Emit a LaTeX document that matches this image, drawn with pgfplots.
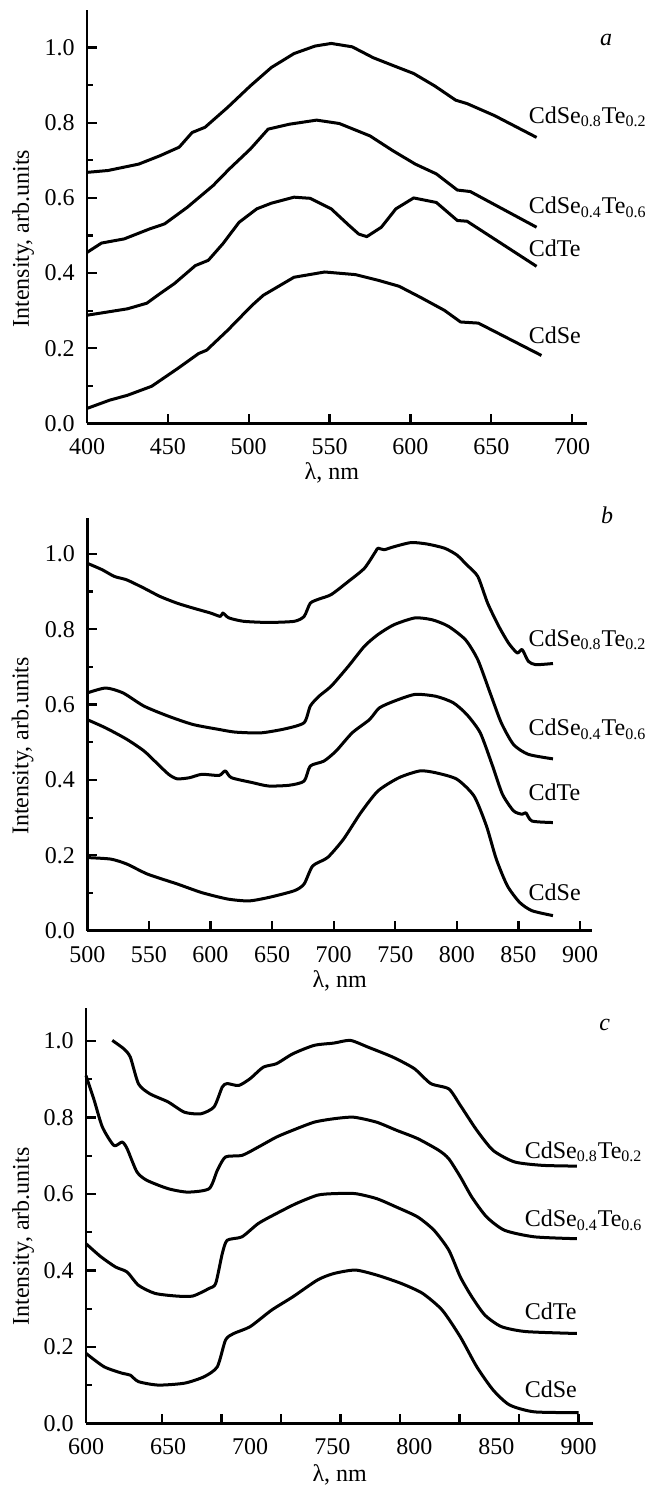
\documentclass[12pt,border=0pt]{standalone}
\usepackage{fontspec}
\setmainfont{Liberation Serif}
\usepackage{pgfplots}
\pgfplotsset{compat=1.18}

\pgfplotsset{
  panel/.style={
    scale only axis,
    axis lines=left,
    axis line style={-,line width=1.4pt},
    every tick/.style={black,line width=1.1pt},
    tick align=inside,
    major tick length=4.8pt,
    minor tick length=3pt,
    clip=false,
    ymin=0,
    ytick={0,0.2,0.4,0.6,0.8,1.0},
    minor y tick num=1,
    /pgf/number format/assume math mode=true,
    yticklabel style={/pgf/number format/fixed,/pgf/number format/fixed zerofill,
      /pgf/number format/precision=1,xshift=-2pt},
    xticklabel style={yshift=-3.5pt},
    tick label style={font=\normalsize},
    label style={font=\normalsize},
    ylabel={Intensity, arb.units},
    xlabel={λ, nm},
    anchor=south west,
  },
  curve/.style={black,line width=1.5pt,line join=round,mark=none},
  scurve/.style={curve,smooth,tension=0.4},
}
\tikzset{tag/.style={anchor=west,inner sep=0pt,font=\normalsize}}

\begin{document}
\begin{tikzpicture}
\useasboundingbox (0,0) rectangle (328pt,743pt);

% ---- panel a ----
\begin{axis}[panel,
  at={(43.5pt,531.25pt)},
  width=249.85pt, height=206.75pt,
  xmin=400, xmax=709, ymax=1.10,
  xtick={400,450,500,550,600,650,700},
  xlabel style={at={(axis description cs:0.49,-0.12)},anchor=center},
  ylabel style={at={(axis description cs:-0.128,0.447)},anchor=center},
]
\addplot[curve] coordinates {(400,0.668)(413,0.673)(432,0.690)(445,0.712)(457,0.735)(465,0.774)(473,0.788)(487,0.841)(501,0.898)(514,0.947)(528,0.984)(541,1.004)(551,1.011)(564,1.002)(577,0.973)(590,0.951)(602,0.931)(615,0.898)(628,0.860)(635,0.851)(652,0.819)(678,0.761)};
\addplot[curve] coordinates {(400,0.455)(409,0.480)(423,0.491)(439,0.518)(448,0.531)(462,0.575)(478,0.633)(488,0.677)(501,0.730)(512,0.783)(525,0.796)(542,0.807)(556,0.798)(575,0.765)(589,0.726)(603,0.690)(616,0.664)(629,0.621)(637,0.617)(678,0.522)};
\addplot[curve] coordinates {(400,0.288)(406,0.292)(425,0.305)(437,0.320)(445,0.345)(454,0.372)(467,0.420)(475,0.434)(484,0.478)(494,0.535)(505,0.571)(514,0.586)(528,0.602)(538,0.599)(551,0.571)(562,0.527)(568,0.504)(573,0.497)(582,0.522)(591,0.571)(602,0.600)(616,0.588)(629,0.540)(635,0.538)(678,0.418)};
\addplot[curve] coordinates {(400,0.040)(414,0.062)(425,0.075)(440,0.099)(456,0.146)(469,0.186)(474,0.195)(487,0.248)(502,0.314)(509,0.341)(528,0.389)(547,0.403)(566,0.396)(580,0.381)(593,0.365)(606,0.336)(621,0.301)(631,0.270)(642,0.267)(681,0.181)};
\node[tag] at (axis cs:673,0.816) {CdSe\textsubscript{0.8}Te\textsubscript{0.2}};
\node[tag] at (axis cs:673,0.575) {CdSe\textsubscript{0.4}Te\textsubscript{0.6}};
\node[tag] at (axis cs:673,0.465) {CdTe};
\node[tag] at (axis cs:673,0.235) {CdSe};
\node[font=\normalsize\itshape] at (axis cs:721,1.02) {a};
\end{axis}

% ---- panel b ----
\begin{axis}[panel,
  at={(43.65pt,277.65pt)},
  width=252.35pt, height=206.5pt,
  xmin=500, xmax=909.7, ymax=1.096,
  xtick={500,550,600,650,700,750,800,850,900},
  xlabel style={at={(axis description cs:0.5,-0.121)},anchor=center},
  ylabel style={at={(axis description cs:-0.128,0.447)},anchor=center},
]
\addplot[scurve] coordinates {(500,0.975)(512,0.958)(522,0.940)(532,0.931)(546,0.909)(559,0.887)(573,0.869)(586,0.856)(600,0.843)(608,0.834)(610,0.843)(615,0.830)(627,0.821)(647,0.818)(668,0.821)(676,0.834)(681,0.869)(688,0.880)(698,0.892)(712,0.927)(725,0.962)(734,1.006)(736,1.015)(741,1.011)(749,1.019)(763,1.030)(776,1.026)(790,1.015)(800,0.997)(808,0.971)(817,0.940)(825,0.869)(834,0.808)(842,0.763)(849,0.737)(853,0.746)(858,0.715)(864,0.706)(878,0.709)};
\addplot[scurve] coordinates {(500,0.631)(515,0.644)(529,0.631)(546,0.596)(566,0.569)(586,0.547)(607,0.534)(620,0.527)(641,0.525)(661,0.536)(676,0.552)(681,0.596)(688,0.622)(698,0.649)(712,0.702)(725,0.755)(736,0.786)(749,0.812)(766,0.830)(780,0.825)(793,0.808)(807,0.772)(817,0.719)(827,0.631)(836,0.552)(846,0.494)(858,0.468)(878,0.456)};
\addplot[scurve] coordinates {(500,0.560)(515,0.538)(532,0.508)(546,0.477)(556,0.446)(566,0.415)(573,0.403)(583,0.406)(593,0.415)(607,0.412)(612,0.424)(617,0.406)(634,0.393)(647,0.384)(664,0.386)(676,0.397)(681,0.437)(692,0.450)(702,0.477)(715,0.525)(729,0.560)(737,0.591)(749,0.609)(766,0.627)(783,0.622)(797,0.605)(808,0.574)(819,0.525)(829,0.437)(837,0.362)(846,0.318)(853,0.309)(856,0.313)(861,0.291)(878,0.287)};
\addplot[scurve] coordinates {(500,0.194)(519,0.190)(532,0.177)(549,0.150)(573,0.124)(593,0.101)(614,0.084)(631,0.079)(647,0.088)(668,0.106)(676,0.124)(683,0.172)(695,0.194)(708,0.243)(722,0.313)(736,0.371)(753,0.406)(770,0.424)(783,0.419)(800,0.402)(814,0.357)(824,0.278)(832,0.190)(841,0.119)(851,0.075)(861,0.053)(878,0.040)};
\node[tag] at (axis cs:858,0.772) {CdSe\textsubscript{0.8}Te\textsubscript{0.2}};
\node[tag] at (axis cs:858,0.534) {CdSe\textsubscript{0.4}Te\textsubscript{0.6}};
\node[tag] at (axis cs:858,0.366) {CdTe};
\node[tag] at (axis cs:858,0.103) {CdSe};
\node[font=\normalsize\itshape] at (axis cs:922,1.103) {b};
\end{axis}

% ---- panel c ----
\begin{axis}[panel,
  at={(43pt,31.35pt)},
  width=253.65pt, height=207.5pt,
  xmin=600, xmax=909, ymax=1.086,
  xtick={646.25,682.5,718.75,755,791.25,827.5,863.75,900},
  xticklabels={},
  extra x ticks={600,650,700,750,800,850,900},
  extra x tick labels={600,650,700,750,800,850,900},
  extra x tick style={major tick length=0pt},
  xlabel style={at={(axis description cs:0.5,-0.125)},anchor=center},
  ylabel style={at={(axis description cs:-0.124,0.45)},anchor=center},
]
\addplot[scurve] coordinates {(616,1.002)(623,0.980)(627,0.958)(632,0.888)(639,0.862)(650,0.841)(660,0.814)(670,0.810)(678,0.828)(683,0.880)(686,0.889)(693,0.884)(700,0.902)(708,0.932)(716,0.941)(726,0.967)(739,0.989)(751,0.995)(761,1.002)(772,0.984)(787,0.958)(800,0.928)(810,0.889)(821,0.875)(828,0.832)(838,0.767)(848,0.714)(861,0.684)(878,0.675)(899,0.673)};
\addplot[scurve] coordinates {(600,0.910)(605,0.845)(610,0.775)(617,0.727)(622,0.736)(625,0.719)(631,0.658)(637,0.636)(650,0.614)(662,0.605)(675,0.614)(680,0.662)(685,0.697)(695,0.701)(705,0.723)(716,0.749)(726,0.767)(739,0.788)(751,0.797)(763,0.801)(777,0.788)(789,0.767)(802,0.745)(815,0.714)(821,0.692)(828,0.645)(835,0.592)(844,0.540)(855,0.505)(873,0.488)(899,0.483)};
\addplot[scurve] coordinates {(600,0.470)(609,0.436)(618,0.409)(625,0.396)(632,0.361)(642,0.340)(655,0.333)(665,0.333)(675,0.353)(679,0.366)(683,0.444)(686,0.479)(695,0.488)(705,0.523)(716,0.549)(728,0.575)(741,0.597)(751,0.601)(764,0.601)(777,0.588)(789,0.566)(802,0.540)(812,0.505)(821,0.453)(828,0.383)(835,0.331)(843,0.283)(853,0.253)(868,0.240)(899,0.235)};
\addplot[scurve] coordinates {(600,0.183)(611,0.148)(622,0.131)(627,0.126)(632,0.109)(644,0.100)(660,0.105)(672,0.122)(680,0.148)(685,0.218)(690,0.235)(700,0.253)(713,0.296)(726,0.331)(741,0.375)(751,0.392)(764,0.401)(777,0.388)(792,0.366)(805,0.340)(817,0.296)(828,0.226)(838,0.148)(848,0.087)(858,0.048)(873,0.030)(900,0.028)};
\node[tag] at (axis cs:867,0.71) {CdSe\textsubscript{0.8}Te\textsubscript{0.2}};
\node[tag] at (axis cs:867,0.531) {CdSe\textsubscript{0.4}Te\textsubscript{0.6}};
\node[tag] at (axis cs:867,0.292) {CdTe};
\node[tag] at (axis cs:867,0.088) {CdSe};
\node[font=\normalsize\itshape] at (axis cs:916,1.043) {c};
\end{axis}
\end{tikzpicture}
\end{document}
